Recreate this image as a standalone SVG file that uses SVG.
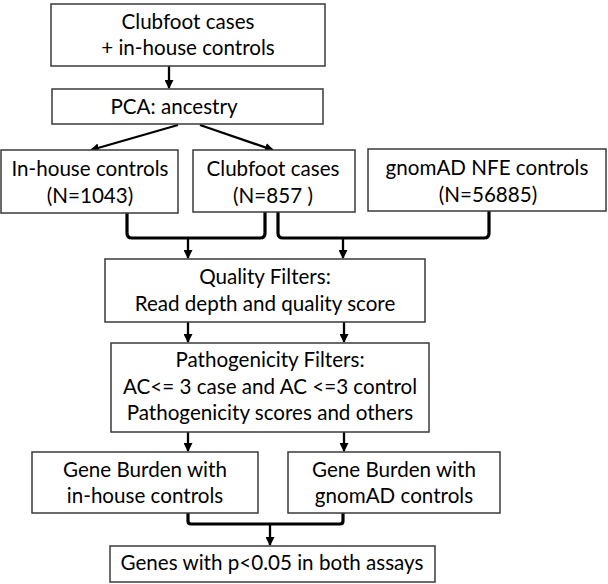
<svg xmlns="http://www.w3.org/2000/svg" width="608" height="584" viewBox="0 0 608 584">
<defs>
<style>
.box{fill:#fff;stroke:#3a3a3a;stroke-width:1.5}
.t{font-family:Lato,"Open Sans","Liberation Sans",sans-serif;font-size:20.6px;fill:#000;text-anchor:middle}
.ln{fill:none;stroke:#000;stroke-width:2.3}
.br{fill:none;stroke:#000;stroke-width:3.2;stroke-linejoin:round}
</style>
<marker id="ah" markerWidth="9" markerHeight="9" refX="8" refY="4.5" orient="auto" markerUnits="userSpaceOnUse">
<path d="M0,0 L9,4.5 L0,9 Z" fill="#000"/>
</marker>
</defs>
<rect width="608" height="584" fill="#fff"/>
<g id="connectors">
<line class="ln" x1="169" y1="66" x2="169" y2="88" marker-end="url(#ah)"/>
<line class="ln" x1="178" y1="125" x2="91" y2="150" marker-end="url(#ah)"/>
<line class="ln" x1="200" y1="125" x2="273" y2="150" marker-end="url(#ah)"/>
<path class="br" d="M127,213 V233 Q127,238 132,238 H260 Q265,238 265,233 V212"/>
<path class="br" d="M278,212 V233 Q278,238 283,238 H484 Q489,238 489,233 V211"/>
<line class="ln" x1="188" y1="238" x2="188" y2="258" marker-end="url(#ah)"/>
<line class="ln" x1="343" y1="238" x2="343" y2="258" marker-end="url(#ah)"/>
<line class="ln" x1="188" y1="322" x2="188" y2="342" marker-end="url(#ah)"/>
<line class="ln" x1="344" y1="322" x2="344" y2="342" marker-end="url(#ah)"/>
<line class="ln" x1="188" y1="432" x2="188" y2="451" marker-end="url(#ah)"/>
<line class="ln" x1="344" y1="432" x2="344" y2="451" marker-end="url(#ah)"/>
<path class="br" d="M188,513 V521 Q188,524 191,524 H340 Q343,524 343,521 V513"/>
<line class="ln" x1="270" y1="524" x2="270" y2="545" marker-end="url(#ah)"/>
</g>
<g id="n1"><rect class="box" x="51" y="4" width="274" height="62"/>
<text class="t" x="188" y="29">Clubfoot cases</text><text class="t" x="188" y="55">+ in-house controls</text></g>
<g id="n2"><rect class="box" x="52" y="89" width="271" height="35"/>
<text class="t" x="174" y="114">PCA: ancestry</text></g>
<g id="n3"><rect class="box" x="1" y="150" width="177" height="63"/>
<text class="t" x="90" y="176">In-house controls</text><text class="t" x="90" y="203">(N=1043)</text></g>
<g id="n4"><rect class="box" x="193" y="150" width="162" height="62"/>
<text class="t" x="273" y="176">Clubfoot cases</text><text class="t" x="273" y="203">(N=857 )</text></g>
<g id="n5"><rect class="box" x="368" y="149" width="238" height="62"/>
<text class="t" x="487" y="175">gnomAD NFE controls</text><text class="t" x="488" y="202">(N=56885)</text></g>
<g id="n6"><rect class="box" x="105" y="259" width="320" height="63"/>
<text class="t" x="265" y="284">Quality Filters:</text><text class="t" x="265" y="311">Read depth and quality score</text></g>
<g id="n7"><rect class="box" x="111" y="343" width="318" height="89"/>
<text class="t" x="270" y="367">Pathogenicity Filters:</text><text class="t" x="270" y="394">AC&lt;= 3 case and AC &lt;=3 control</text><text class="t" x="270" y="420">Pathogenicity scores and others</text></g>
<g id="n8"><rect class="box" x="32" y="452" width="226" height="61"/>
<text class="t" x="145" y="477">Gene Burden with</text><text class="t" x="145" y="503">in-house controls</text></g>
<g id="n9"><rect class="box" x="288" y="452" width="212" height="61"/>
<text class="t" x="394" y="477">Gene Burden with</text><text class="t" x="394" y="503">gnomAD controls</text></g>
<g id="n10"><rect class="box" x="110" y="546" width="325" height="36"/>
<text class="t" x="272" y="570">Genes with p&lt;0.05 in both assays</text></g>
</svg>
